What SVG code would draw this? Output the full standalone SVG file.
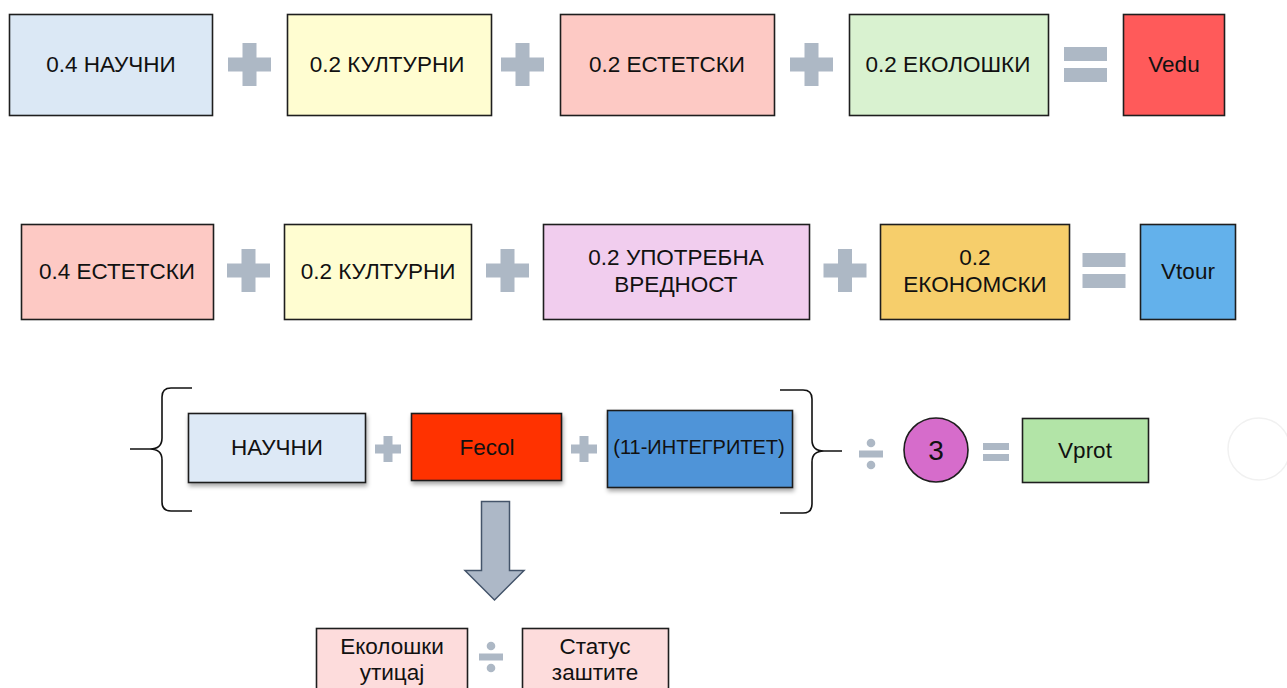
<svg xmlns="http://www.w3.org/2000/svg" width="1287" height="688" viewBox="0 0 1287 688">
<defs>
<style>
.b{stroke:#1e1e1e;stroke-width:1.6}
.t{font-family:"Liberation Sans",Arial,sans-serif;font-size:22.5px;fill:#111;text-anchor:middle;dominant-baseline:central}
.s{fill:#adb8c5}
.br{fill:none;stroke:#111;stroke-width:1.6}
</style>
<filter id="sh" x="-10%" y="-10%" width="130%" height="140%">
<feDropShadow dx="1" dy="3" stdDeviation="2" flood-color="#000" flood-opacity="0.35"/>
</filter>
<path id="plus" d="M-7,-21.5H7V-7H21.5V7H7V21.5H-7V7H-21.5V-7H-7Z"/>
<path id="plusS" d="M-4.5,-13H4.5V-4.5H13V4.5H4.5V13H-4.5V4.5H-13V-4.5H-4.5Z"/>
<g id="eq"><rect x="-21.5" y="-17.5" width="43" height="14"/><rect x="-21.5" y="3.5" width="43" height="14"/></g>
<g id="eqS"><rect x="-13" y="-9" width="26" height="7"/><rect x="-13" y="2" width="26" height="7"/></g>
<g id="div"><rect x="-12" y="-3.5" width="24" height="7"/><circle cx="0" cy="-11" r="4.3"/><circle cx="0" cy="11" r="4.3"/></g>
</defs>

<!-- Row 1 -->
<g id="r1n1"><rect class="b" x="9.5" y="14.5" width="203" height="101" fill="#dbe8f5"/><text class="t" x="111" y="64">0.4 НАУЧНИ</text></g>
<g id="r1n2"><rect class="b" x="287.5" y="14.5" width="204" height="101" fill="#fffdd1"/><text class="t" x="387" y="64">0.2 КУЛТУРНИ</text></g>
<g id="r1n3"><rect class="b" x="560.5" y="14.5" width="214" height="101" fill="#fdc9c4"/><text class="t" x="667" y="64">0.2 ЕСТЕТСКИ</text></g>
<g id="r1n4"><rect class="b" x="849.5" y="14.5" width="199" height="101" fill="#d9f2d0"/><text class="t" x="948" y="64">0.2 ЕКОЛОШКИ</text></g>
<g id="r1n5"><rect class="b" x="1123.5" y="14.5" width="101" height="101" fill="#ff5a5a"/><text class="t" x="1174" y="64">Vedu</text></g>

<!-- Row 2 -->
<g id="r2n1"><rect class="b" x="21.5" y="224.5" width="192" height="95" fill="#fdc9c4"/><text class="t" x="117" y="271">0.4 ЕСТЕТСКИ</text></g>
<g id="r2n2"><rect class="b" x="284.5" y="224.5" width="187" height="95" fill="#fffdd1"/><text class="t" x="378" y="271">0.2 КУЛТУРНИ</text></g>
<g id="r2n3"><rect class="b" x="543.5" y="224.5" width="266" height="95" fill="#f1cdee"/><text class="t" x="676" y="257">0.2 УПОТРЕБНА</text><text class="t" x="676" y="284">ВРЕДНОСТ</text></g>
<g id="r2n4"><rect class="b" x="880.5" y="224.5" width="189" height="95" fill="#f6ce6b"/><text class="t" x="975" y="257">0.2</text><text class="t" x="975" y="284">ЕКОНОМСКИ</text></g>
<g id="r2n5"><rect class="b" x="1140.5" y="224.5" width="95" height="95" fill="#63b1eb"/><text class="t" x="1188" y="271">Vtour</text></g>

<!-- Row 3 -->
<g id="r3n1"><rect class="b" x="188.5" y="413.5" width="177" height="69" fill="#dde9f6" filter="url(#sh)"/><text class="t" x="277" y="447">НАУЧНИ</text></g>
<g id="r3n2"><rect class="b" x="411.5" y="413.5" width="150" height="67" fill="#ff3300" filter="url(#sh)"/><text class="t" x="487" y="447">Fecol</text></g>
<g id="r3n3"><rect class="b" x="607.5" y="410.5" width="185" height="77" fill="#4f94d8" filter="url(#sh)"/><text class="t" x="699" y="447" style="font-size:20px">(11-ИНТЕГРИТЕТ)</text></g>
<g id="r3n4"><ellipse class="b" cx="936" cy="450" rx="32" ry="32" fill="#d66ccb"/><text class="t" x="936" y="450" style="font-size:28px">3</text></g>
<g id="r3n5"><rect class="b" x="1022.5" y="418.5" width="126" height="64" fill="#b2e4a7"/><text class="t" x="1085" y="450">Vprot</text></g>
<g id="ghost"><circle cx="1259" cy="449" r="31" fill="none" stroke="#f1f1f1" stroke-width="1.5"/></g>

<!-- Bottom -->
<g id="b1"><rect class="b" x="316.5" y="628.5" width="151" height="70" fill="#fddcdc"/><text class="t" x="392" y="646">Еколошки</text><text class="t" x="392" y="672">утицај</text></g>
<g id="b2"><rect class="b" x="522.5" y="628.5" width="146" height="70" fill="#fddcdc"/><text class="t" x="595" y="646">Статус</text><text class="t" x="595" y="672">заштите</text></g>

<!-- Connectors / operators -->
<g id="connectors">
<g class="s">
<use href="#plus" x="249.5" y="64.5"/>
<use href="#plus" x="522.5" y="64.5"/>
<use href="#plus" x="811.5" y="64.5"/>
<use href="#eq" x="1085.5" y="64.5"/>
<use href="#plus" x="248.5" y="270.5"/>
<use href="#plus" x="507.5" y="270.5"/>
<use href="#plus" x="845" y="270.5"/>
<use href="#eq" x="1104" y="270.5"/>
<use href="#plusS" x="388" y="449"/>
<use href="#plusS" x="584" y="449"/>
<use href="#div" x="871" y="454"/>
<use href="#eqS" x="996" y="452"/>
<use href="#div" x="491" y="657"/>
</g>
<path class="br" d="M192,388 H171 Q162,388 162,397 V438 Q162,449 150,449 H130 H150 Q162,449 162,460 V502 Q162,511 171,511 H192"/>
<path class="br" d="M780,390 H803 Q812,390 812,399 V440 Q812,451 824,451 H842 H824 Q812,451 812,462 V504 Q812,513 803,513 H780"/>
<path d="M481.5,501.5 H509.5 V570.5 H524 L494.5,600 L465,570.5 H481.5 Z" fill="#adb8c7" stroke="#44546a" stroke-width="1.5"/>
</g>
</svg>
